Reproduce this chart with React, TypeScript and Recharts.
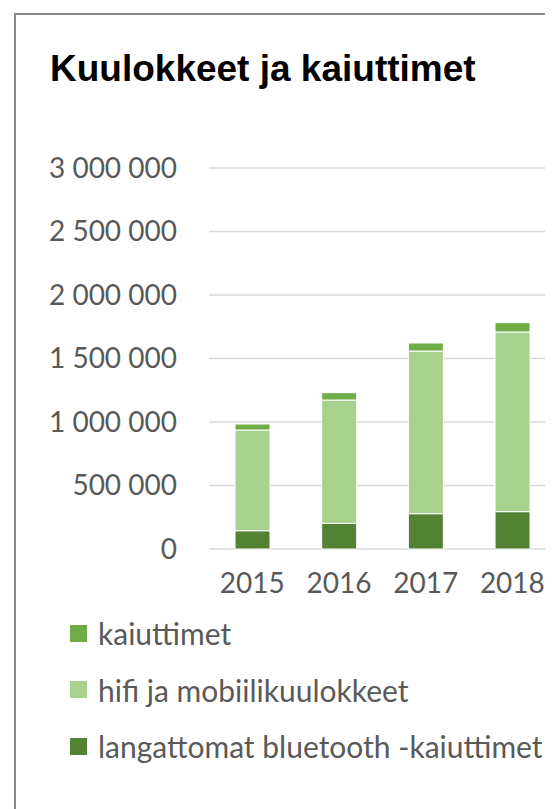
import React from 'react';
import { BarChart, Bar, XAxis, YAxis, CartesianGrid, Legend } from 'recharts';

const years = ['2015', '2016', '2017', '2018'];
const langattomat = [144000, 202000, 278000, 294000];
const hifi = [793000, 971000, 1281000, 1415000];
const kaiuttimet = [47000, 58000, 63000, 73000];
const yTicks = [0, 500000, 1000000, 1500000, 2000000, 2500000, 3000000];

const names = {
  langattomat: 'langattomat bluetooth -kaiuttimet',
  hifi: 'hifi ja mobiilikuulokkeet',
  kaiuttimet: 'kaiuttimet',
};
const legendOrder = [names.kaiuttimet, names.hifi, names.langattomat];

const data = years.map((y, i) => ({
  year: y,
  langattomat: langattomat[i],
  hifi: hifi[i],
  kaiuttimet: kaiuttimet[i],
}));

const fmt = (n: number) => String(n).replace(/\B(?=(\d{3})+(?!\d))/g, ' ');

const FONT = 'Lato, "Open Sans", sans-serif';

const LegendContent = (props: any) => {
  const items = [...(props.payload || [])].sort(
    (a: any, b: any) => legendOrder.indexOf(a.value) - legendOrder.indexOf(b.value)
  );
  return (
    <div style={{ fontFamily: FONT, fontSize: 30, color: '#595959' }}>
      {items.map((it: any) => (
        <div key={it.value} style={{ display: 'flex', alignItems: 'center', height: 56.5 }}>
          <div style={{ width: 17, height: 17, background: it.color, marginRight: 11, flexShrink: 0 }} />
          <span style={{ whiteSpace: 'nowrap' }}>{it.value}</span>
        </div>
      ))}
    </div>
  );
};

export default function App() {
  return (
    <div style={{ position: 'relative', width: 545, height: 801, overflow: 'hidden', background: '#fff' }}>
      <div
        style={{
          position: 'absolute',
          left: 6,
          top: 5,
          width: 640,
          height: 900,
          border: '2px solid #8a8a8a',
        }}
      />
      <div
        style={{
          position: 'absolute',
          left: 42,
          top: 42,
          fontFamily: '"Liberation Sans", Arial, sans-serif',
          fontWeight: 'bold',
          fontSize: 37,
          lineHeight: '37px',
          color: '#000',
          whiteSpace: 'nowrap',
        }}
      >
        Kuulokkeet ja kaiuttimet
      </div>
      <div style={{ position: 'absolute', left: 0, top: 0 }}>
        <BarChart
          width={600}
          height={793}
          data={data}
          margin={{ top: 160, right: 52.3, left: 0, bottom: 212 }}
          barSize={35}
        >
          <CartesianGrid horizontal vertical={false} stroke="#d9d9d9" strokeWidth={1.4} />
          <XAxis
            dataKey="year"
            axisLine={false}
            tickLine={false}
            tickSize={0}
            tickMargin={24}
            height={40}
            tick={{ fill: '#595959', fontSize: 28, fontFamily: FONT }}
          />
          <YAxis
            domain={[0, 3000000]}
            ticks={yTicks}
            tickFormatter={fmt}
            axisLine={false}
            tickLine={false}
            tickSize={0}
            tickMargin={32}
            width={201}
            interval={0}
            tick={{ fill: '#595959', fontSize: 28, fontFamily: FONT }}
          />
          <Bar dataKey="langattomat" name={names.langattomat} stackId="a" fill="#548235" stroke="#ffffff" strokeWidth={1} isAnimationActive={false} />
          <Bar dataKey="hifi" name={names.hifi} stackId="a" fill="#a9d18e" stroke="#ffffff" strokeWidth={1} isAnimationActive={false} />
          <Bar dataKey="kaiuttimet" name={names.kaiuttimet} stackId="a" fill="#70ad47" stroke="#ffffff" strokeWidth={1} isAnimationActive={false} />
          <Legend
            layout="vertical"
            align="center"
            verticalAlign="middle"
            content={<LegendContent />}
            wrapperStyle={{ position: 'absolute', left: 62, top: 597, width: 'auto' }}
          />
        </BarChart>
      </div>
    </div>
  );
}
